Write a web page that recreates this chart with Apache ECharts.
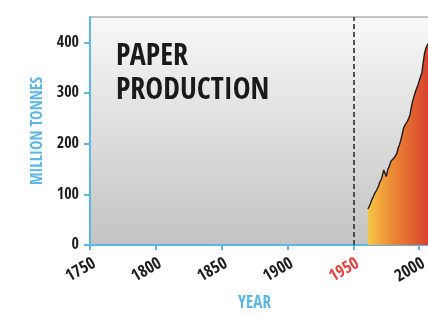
<!DOCTYPE html>
<html>
<head>
<meta charset="utf-8">
<script src="https://cdn.jsdelivr.net/npm/echarts@6/dist/echarts.min.js"></script>
<style>
  html, body { margin: 0; padding: 0; background: #fff; }
  #chart { width: 428px; height: 317px; }
</style>
</head>
<body>
<div id="chart"></div>
<script>
// Paper production, million tonnes per year
const years = [1961, 1962, 1963, 1964, 1965, 1966, 1967, 1968, 1969, 1970,
  1971, 1972, 1973, 1974, 1975, 1976, 1977, 1978, 1979, 1980,
  1981, 1982, 1983, 1984, 1985, 1986, 1987, 1988, 1989, 1990,
  1991, 1992, 1993, 1994, 1995, 1996, 1997, 1998, 1999, 2000,
  2001, 2002, 2003, 2004, 2005, 2006, 2007, 2008];
const tonnes = [71, 76, 82, 90, 94, 101, 104, 110, 116, 124,
  128, 137, 148, 150, 135, 148, 154, 162, 167, 170,
  172, 172, 181, 192, 198, 207, 218, 230, 236, 240,
  244, 250, 257, 272, 284, 286, 302, 305, 316, 324,
  322, 340, 360, 378, 388, 394, 398, 392];
const yTicks = [0, 100, 200, 300, 400];
const markYear = 1950;

const FONT = '"Open Sans Condensed", "DejaVu Sans Condensed", sans-serif';
const BLUE = '#5cb6e8';

const chart = echarts.init(document.getElementById('chart'));

const option = {
  backgroundColor: '#fff',
  animation: false,
  grid: {
    left: 90, top: 17, width: 349, bottom: 72,
    outerBoundsMode: 'none',
    containLabel: false,
    show: true,
    borderWidth: 1,
    borderColor: '#8a8a8a',
    backgroundColor: new echarts.graphic.LinearGradient(0, 0, 0, 1, [
      { offset: 0, color: '#f8f8f8' },
      { offset: 1, color: '#c3c3c3' }
    ])
  },
  xAxis: {
    type: 'value',
    min: 1750,
    max: 2015,
    interval: 50,
    name: 'YEAR',
    nameLocation: 'middle',
    nameGap: 50,
    nameTextStyle: {
      color: BLUE, fontFamily: FONT, fontWeight: 'bold', fontSize: 17,
      padding: [0, 20, 0, 0]
    },
    axisLine: { lineStyle: { color: BLUE, width: 2 } },
    axisTick: { show: true, length: 5, lineStyle: { color: BLUE, width: 2 } },
    splitLine: { show: false },
    axisLabel: {
      rotate: 30,
      margin: 20,
      align: 'center',
      verticalAlign: 'middle',
      padding: [0, 21, 0, 0],
      showMaxLabel: false,
      color: '#1e1e1e',
      fontFamily: FONT,
      fontWeight: 'bold',
      fontSize: 17,
      formatter: v => v === markYear ? '{r|' + v + '}' : String(v),
      rich: {
        r: { color: '#e8423a', fontFamily: FONT, fontWeight: 'bold', fontSize: 17 }
      }
    }
  },
  yAxis: {
    type: 'value',
    min: 0,
    max: 450,
    interval: 100,
    name: 'MILLION TONNES',
    nameLocation: 'middle',
    nameGap: 43,
    nameTextStyle: { color: BLUE, fontFamily: FONT, fontWeight: 'bold', fontSize: 16 },
    axisLine: { show: true, lineStyle: { color: BLUE, width: 2 } },
    axisTick: { show: true, length: 6, lineStyle: { color: BLUE, width: 2 } },
    splitLine: { show: false },
    axisLabel: {
      margin: 11,
      color: '#1e1e1e',
      fontFamily: FONT,
      fontWeight: 'bold',
      fontSize: 16,
      showMaxLabel: false,
      formatter: v => yTicks.includes(v) ? String(v) : ''
    }
  },
  series: [{
    type: 'line',
    data: years.map((y, i) => [y, tonnes[i]]),
    showSymbol: false,
    lineStyle: { color: '#1c1c1c', width: 1.4 },
    areaStyle: {
      opacity: 1,
      color: new echarts.graphic.LinearGradient(0, 0, 1, 0, [
        { offset: 0, color: '#f5c746' },
        { offset: 0.35, color: '#ee8e35' },
        { offset: 1, color: '#d8402f' }
      ])
    },
    markLine: {
      silent: true,
      symbol: 'none',
      label: { show: false },
      lineStyle: { color: '#222', type: [5, 3], width: 1.5 },
      data: [{ xAxis: markYear }]
    }
  }],
  graphic: [{
    type: 'text',
    left: 116,
    top: 40,
    style: {
      text: 'PAPER\nPRODUCTION',
      fill: '#1a1a1a',
      font: 'bold 30px ' + FONT,
      lineHeight: 34
    }
  }]
};
chart.setOption(option);
</script>
</body>
</html>
